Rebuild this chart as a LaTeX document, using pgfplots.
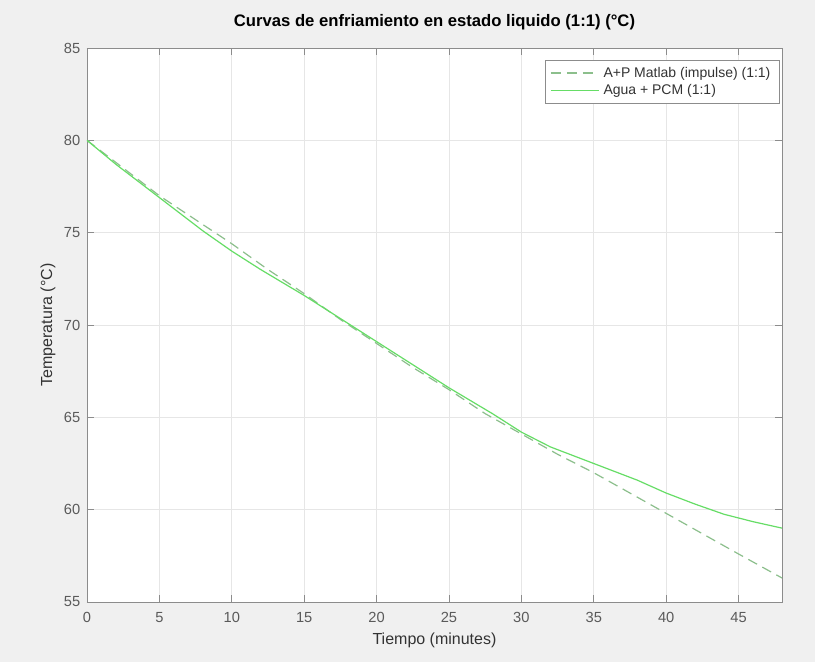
\documentclass[border=0pt]{standalone}
\usepackage{fontspec}
\setmainfont{Liberation Sans}
\usepackage{pgfplots}
\pgfplotsset{compat=1.18}
\definecolor{figbg}{HTML}{F0F0F0}
\definecolor{axgray}{HTML}{8C8C8C}
\definecolor{ticktext}{HTML}{5A5A5A}
\definecolor{labtext}{HTML}{333333}
\definecolor{gridc}{HTML}{E6E6E6}
\definecolor{solidg}{HTML}{66DD66}
\definecolor{dashg}{HTML}{8CBF8C}
\begin{document}
\begin{tikzpicture}[x=1pt,y=1pt]
\fill[figbg] (-65.25,-45) rectangle (546,451.5);
\useasboundingbox (-65.25,-45) rectangle (546,451.5);
\begin{axis}[
  at={(0pt,0pt)}, anchor=south west,
  scale only axis, width=521.25pt, height=415.5pt,
  xmin=0, xmax=48, ymin=55, ymax=85,
  xtick={0,5,...,45}, ytick={55,60,...,85},
  grid=major, major grid style={gridc, line width=0.6pt},
  axis line style={axgray, line width=0.7pt},
  tick style={axgray, line width=0.6pt},
  tick align=inside, major tick length=5pt,
  axis background/.style={fill=white},
  /pgf/number format/assume math mode=true,
  ticklabel style={font=\fontsize{11}{13}\selectfont, text=ticktext},
  xticklabel style={yshift=-4.5pt},
  yticklabel style={xshift=-1.5pt},
  title={\textbf{Curvas de enfriamiento en estado liquido (1:1) (°C)}},
  title style={font=\fontsize{12.5}{14}\selectfont, text=black, anchor=center, at={(axis description cs:0.5,1)}, yshift=13.5pt},
  xlabel={Tiempo (minutes)},
  ylabel={Temperatura (°C)},
  every axis x label/.style={at={(axis description cs:0.5,-0.0686)}, anchor=center,
     font=\fontsize{12}{14}\selectfont, text=labtext},
  every axis y label/.style={at={(axis description cs:-0.0561,0.5)}, anchor=center, rotate=90,
     font=\fontsize{12}{14}\selectfont, text=labtext},
  legend style={at={(axis description cs:1,1)}, anchor=north east, xshift=-1.5pt, yshift=-9pt,
    draw=axgray, fill=white, font=\fontsize{10.5}{12.5}\selectfont, text=labtext,
    inner xsep=4pt, inner ysep=3pt, row sep=0pt,
    nodes={inner xsep=3pt}},
  legend cell align=left,
  legend image code/.code={\draw[#1] (0pt,0pt) -- (36pt,0pt);},
]
\addplot[dashg, line width=0.9pt, dash pattern=on 7.5pt off 4.5pt] coordinates {
(0,80.0) (2.5,78.5) (5,77.0) (7.5,75.7) (10,74.4) (12.5,73.0) (15,71.7)
(17.5,70.3) (20,69.0) (22.5,67.7) (25,66.5) (27.5,65.2) (30,64.1)
(32.5,63.0) (35,62.0) (37.5,60.9) (40,59.8) (42.5,58.7) (45,57.6) (48,56.3)
};
\addlegendentry{A+P Matlab (impulse) (1:1)}
\addplot[solidg, line width=0.9pt] coordinates {
(0,80.0) (2,78.7) (4,77.5) (5,76.9) (6,76.3) (8,75.1) (10,74.0) (12,73.0)
(15,71.6) (18,70.1) (20,69.1) (22,68.1) (25,66.6) (28,65.2) (30,64.2)
(32,63.4) (35,62.5) (38,61.6) (40,60.9) (42,60.3) (44,59.75) (46,59.35) (48,59.0)
};
\addlegendentry{Agua + PCM (1:1)}
\end{axis}
\end{tikzpicture}
\end{document}
